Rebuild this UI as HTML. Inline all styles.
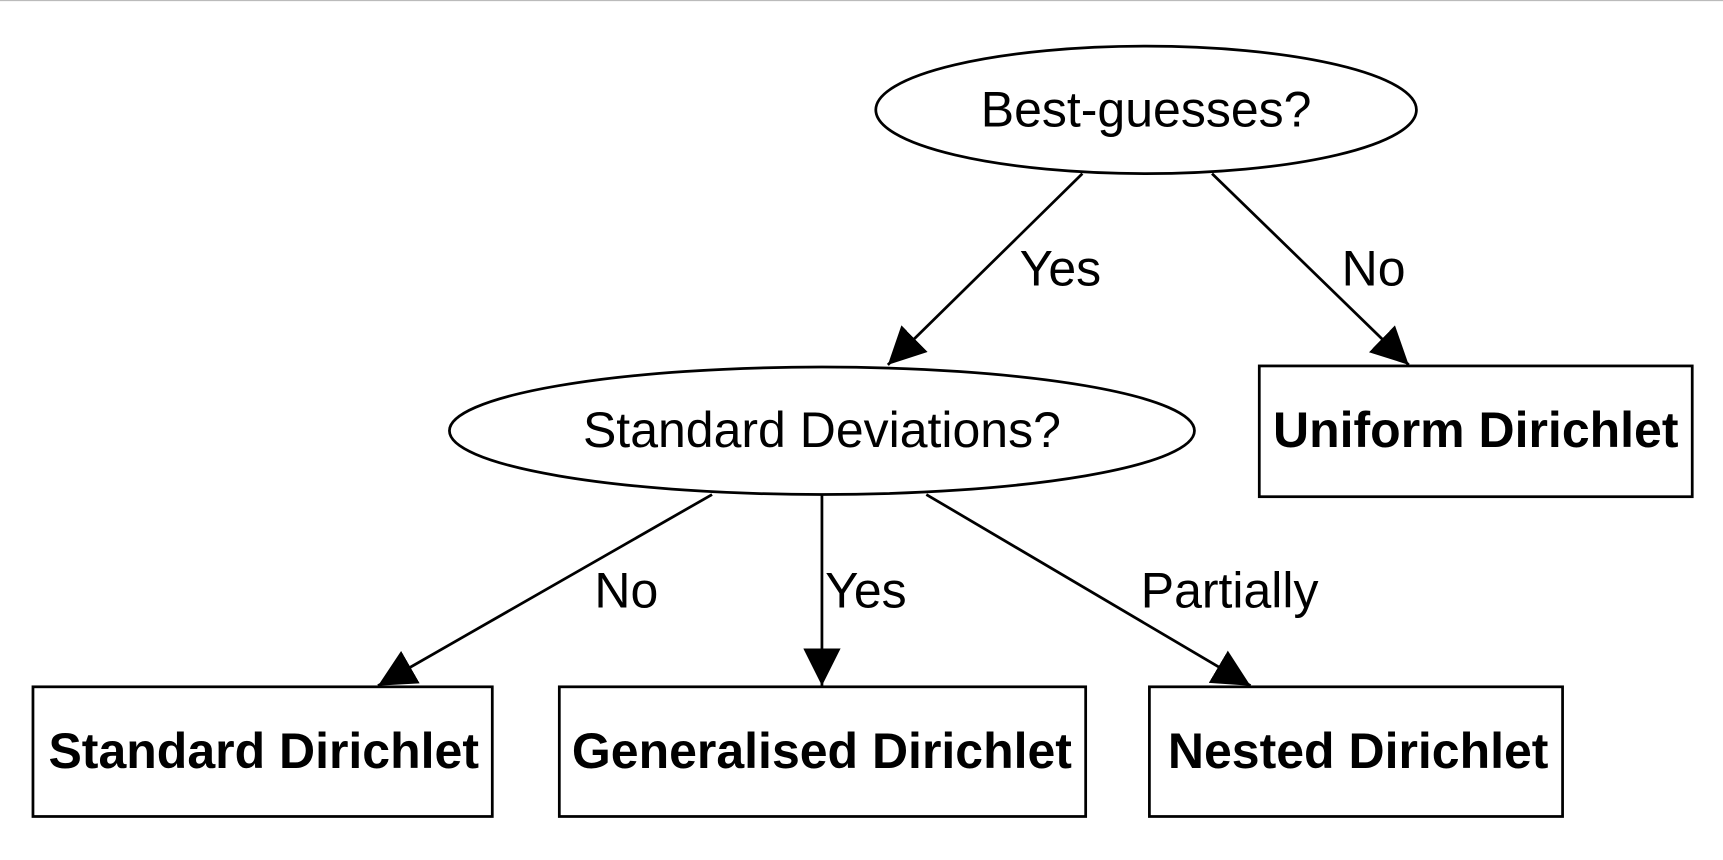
<!DOCTYPE html>
<html><head><style>html,body{margin:0;padding:0;background:#fff;}svg{display:block;}</style></head>
<body>
<svg width="1723" height="860" viewBox="0 0 1568 782.6" preserveAspectRatio="none" xmlns="http://www.w3.org/2000/svg">
<defs>
<marker id="a" viewBox="0 0 10 10" refX="10" refY="5" markerWidth="34" markerHeight="34" markerUnits="userSpaceOnUse" orient="auto">
<path d="M0,0 L10,5 L0,10 z" fill="#000"/>
</marker>
</defs>
<line x1="0" y1="0.5" x2="1568" y2="0.5" stroke="#bbb" stroke-width="1"/>
<g fill="none" stroke="#000" stroke-width="2.5">
<ellipse cx="1043" cy="100" rx="246" ry="58"/>
<ellipse cx="748" cy="392" rx="339" ry="58"/>
<rect x="1146" y="333" width="394" height="119"/>
<rect x="30" y="625" width="418" height="118"/>
<rect x="509" y="625" width="479" height="118"/>
<rect x="1046" y="625" width="376" height="118"/>
<line x1="985" y1="158" x2="808" y2="332" marker-end="url(#a)"/>
<line x1="1103" y1="158" x2="1282" y2="332" marker-end="url(#a)"/>
<line x1="648" y1="450" x2="344" y2="624" marker-end="url(#a)"/>
<line x1="748" y1="450" x2="748" y2="624" marker-end="url(#a)"/>
<line x1="843" y1="450" x2="1138" y2="624" marker-end="url(#a)"/>
</g>
<g font-family="Liberation Sans, sans-serif" font-size="45.5" fill="#000" text-anchor="middle">
<text x="1043" y="115">Best-guesses?</text>
<text x="748" y="407">Standard Deviations?</text>
<text x="965" y="260">Yes</text>
<text x="1250" y="260">No</text>
<text x="570" y="553">No</text>
<text x="788" y="553">Yes</text>
<text x="1119" y="553">Partially</text>
<g font-weight="bold">
<text x="1343" y="407">Uniform Dirichlet</text>
<text x="240" y="699">Standard Dirichlet</text>
<text x="748" y="699">Generalised Dirichlet</text>
<text x="1236" y="699">Nested Dirichlet</text>
</g>
</g>
</svg>
</body></html>
